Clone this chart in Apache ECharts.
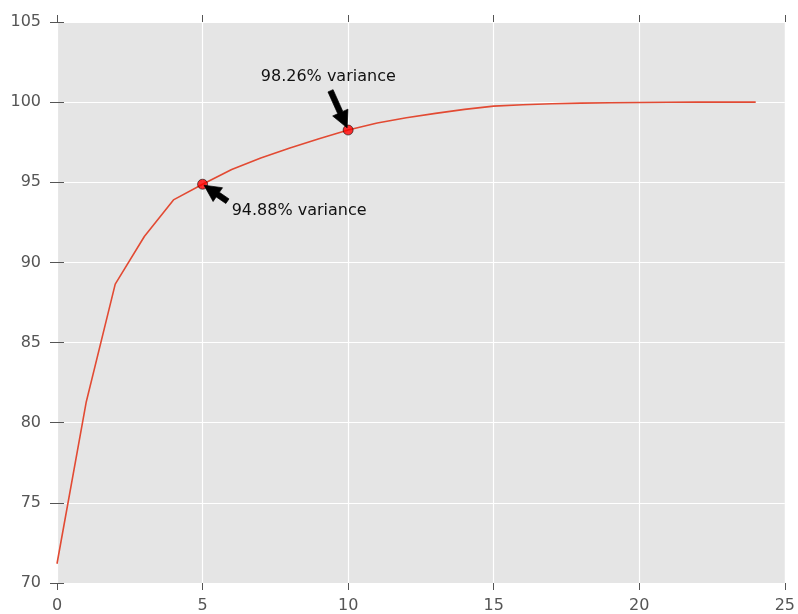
<!DOCTYPE html>
<html>
<head>
<meta charset="utf-8">
<script src="https://cdn.jsdelivr.net/npm/echarts@6/dist/echarts.min.js"></script>
<style>
  html, body { margin: 0; padding: 0; background: #ffffff; }
  #chart { width: 798px; height: 614px; }
</style>
</head>
<body>
<div id="chart"></div>
<script>
// Cumulative explained variance (%) by number of principal components
const components = [0, 1, 2, 3, 4, 5, 6, 7, 8, 9, 10, 11, 12, 13, 14, 15, 16, 17, 18, 19, 20, 21, 22, 23, 24];
const cumulativeVariance = [71.2, 81.26, 88.65, 91.62, 93.9, 94.88, 95.8, 96.52, 97.14, 97.72, 98.26,
  98.7, 99.03, 99.3, 99.55, 99.75, 99.84, 99.9, 99.94, 99.96, 99.98, 99.99, 100.0, 100.0, 100.0];

// Highlighted components and their annotation text anchors (data units, text baseline)
const highlightX = [5, 10];
const highlightY = [94.88, 98.26];
const noteTextX = [6, 7];
const noteTextY = [92.88, 101.26];
const noteLabels = ['94.88% variance', '98.26% variance'];

// Axis ranges and ticks
const xMin = 0, xMax = 25, xStep = 5;
const yMin = 70, yMax = 105, yStep = 5;

const FONT = '"DejaVu Sans", "Liberation Sans", sans-serif';
const NOTE_SIZE = 16;
const TICK_COLOR = '#555555';

const measureCtx = document.createElement('canvas').getContext('2d');
measureCtx.font = NOTE_SIZE + 'px ' + FONT;

const chart = echarts.init(document.getElementById('chart'), null, { renderer: 'canvas' });

const lineData = components.map((c, i) => [c, cumulativeVariance[i]]);
const pointData = highlightX.map((x, i) => [x, highlightY[i]]);
const noteData = highlightX.map((x, i) => [x, highlightY[i], noteTextX[i], noteTextY[i], i]);

function nearest(v, cands) {
  let best = cands[0];
  for (const c of cands) if (Math.abs(c - v) < Math.abs(best - v)) best = c;
  return best;
}

// Distance along direction (ux, uy) from a point inside a box until it leaves the box
function exitDistance(px, py, ux, uy, x0, y0, x1, y1) {
  let t = Infinity;
  if (ux > 1e-9) t = Math.min(t, (x1 - px) / ux);
  if (ux < -1e-9) t = Math.min(t, (x0 - px) / ux);
  if (uy > 1e-9) t = Math.min(t, (y1 - py) / uy);
  if (uy < -1e-9) t = Math.min(t, (y0 - py) / uy);
  return Math.max(0, t);
}

// Arrow from the nearest side of the (padded) text box to the highlighted point,
// shortened by 5% of its length at both ends
function renderNote(params, api) {
  const tip = api.coord([api.value(0), api.value(1)]);
  const anchor = api.coord([api.value(2), api.value(3)]);
  const label = noteLabels[api.value(4)];
  const w = measureCtx.measureText(label).width;
  const left = anchor[0], right = anchor[0] + w;
  const top = anchor[1] - 0.76 * NOTE_SIZE, bottom = anchor[1] + 0.24 * NOTE_SIZE;
  const ax = nearest(tip[0], [left, (left + right) / 2, right]);
  const ay = nearest(tip[1], [top, (top + bottom) / 2, bottom]);
  const r = Math.hypot(tip[0] - ax, tip[1] - ay);
  const ux = (tip[0] - ax) / r, uy = (tip[1] - ay) / r;
  const pad = 2.8;
  const clipLen = exitDistance(ax, ay, ux, uy, left - pad, top - pad, right + pad, bottom + pad);
  const shrinkLen = 0.05 * r;
  const sx = ax + ux * (clipLen + shrinkLen), sy = ay + uy * (clipLen + shrinkLen);
  const ex = tip[0] - ux * shrinkLen, ey = tip[1] - uy * shrinkLen;
  const L = Math.hypot(ex - sx, ey - sy);
  const nx = -uy, ny = ux;
  const shaft = 5.6, headW = 16.7, headL = Math.min(16.7, L);
  const bx = ex - ux * headL, by = ey - uy * headL;
  const pts = [
    [sx + nx * shaft / 2, sy + ny * shaft / 2],
    [bx + nx * shaft / 2, by + ny * shaft / 2],
    [bx + nx * headW / 2, by + ny * headW / 2],
    [ex, ey],
    [bx - nx * headW / 2, by - ny * headW / 2],
    [bx - nx * shaft / 2, by - ny * shaft / 2],
    [sx - nx * shaft / 2, sy - ny * shaft / 2]
  ];
  return {
    type: 'group',
    children: [
      { type: 'polygon', shape: { points: pts }, style: { fill: '#000000', stroke: '#000000', lineWidth: 0.7 } },
      {
        type: 'text',
        style: {
          x: anchor[0], y: anchor[1] - 5,
          text: label, fill: '#111111',
          font: NOTE_SIZE + 'px ' + FONT,
          align: 'left', verticalAlign: 'middle'
        }
      }
    ]
  };
}

const baseX = {
  type: 'value', min: xMin, max: xMax, interval: xStep,
  axisLine: { show: false },
  axisTick: { show: true, inside: false, length: 7, lineStyle: { color: TICK_COLOR, width: 1 } }
};
const baseY = {
  type: 'value', min: yMin, max: yMax, interval: yStep,
  axisLine: { show: false },
  axisTick: { show: true, inside: false, length: 7, lineStyle: { color: TICK_COLOR, width: 1 } }
};

chart.setOption({
  animation: false,
  backgroundColor: '#ffffff',
  grid: {
    left: 57, right: 10, top: 22, bottom: 30,
    show: true, backgroundColor: '#E5E5E5', borderWidth: 0, containLabel: false
  },
  xAxis: [
    Object.assign({}, baseX, {
      position: 'bottom',
      axisLabel: { color: TICK_COLOR, fontSize: 16, fontFamily: FONT, margin: 15 },
      splitLine: { show: true, lineStyle: { color: '#ffffff', width: 1.2 } }
    }),
    Object.assign({}, baseX, {
      position: 'top',
      axisLabel: { show: false },
      splitLine: { show: false }
    })
  ],
  yAxis: [
    Object.assign({}, baseY, {
      position: 'left',
      axisLabel: { color: TICK_COLOR, fontSize: 16, fontFamily: FONT, margin: 16 },
      splitLine: { show: true, lineStyle: { color: '#ffffff', width: 1.2 } }
    }),
    Object.assign({}, baseY, {
      position: 'right',
      axisLabel: { show: false },
      splitLine: { show: false }
    })
  ],
  series: [
    {
      type: 'line', xAxisIndex: 0, yAxisIndex: 0,
      data: lineData, showSymbol: false, symbol: 'none',
      lineStyle: { color: '#E24A33', width: 1.6 },
      z: 2
    },
    {
      type: 'scatter', xAxisIndex: 0, yAxisIndex: 0,
      data: pointData, symbol: 'circle', symbolSize: 10,
      itemStyle: { color: '#ff0000', borderColor: '#000000', borderWidth: 0.7 },
      z: 3
    },
    {
      type: 'custom', xAxisIndex: 0, yAxisIndex: 0,
      data: noteData, renderItem: renderNote, clip: false,
      z: 4
    }
  ]
});
</script>
</body>
</html>
